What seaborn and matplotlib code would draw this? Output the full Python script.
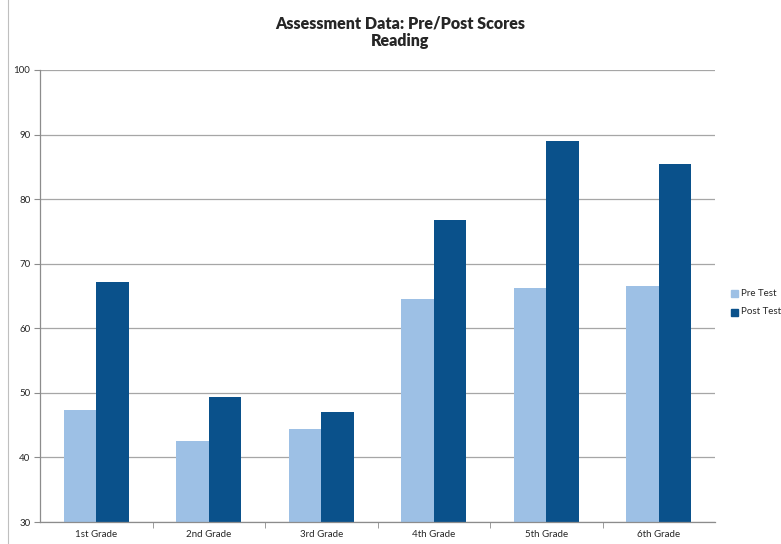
import pandas as pd
import seaborn as sns
import matplotlib.pyplot as plt
from matplotlib.patches import Rectangle

# data
grades = ['1st Grade', '2nd Grade', '3rd Grade', '4th Grade', '5th Grade', '6th Grade']
pre_test = [47.3, 42.6, 44.4, 64.5, 66.2, 66.5]
post_test = [67.1, 49.3, 47.1, 76.8, 89.0, 85.5]
series = ['Pre Test', 'Post Test']

df = pd.DataFrame({
    'grade': grades * 2,
    'score': pre_test + post_test,
    'test': [series[0]] * len(grades) + [series[1]] * len(grades),
})

sns.set_style('white')
plt.rcParams['font.family'] = ['Lato', 'DejaVu Sans']

fig = plt.figure(figsize=(7.81, 5.44), dpi=100)
ax = fig.add_axes([40 / 781, 1 - 522 / 544, 675 / 781, 452 / 544])

colors = {'Pre Test': '#9dc0e5', 'Post Test': '#0a518b'}
sns.barplot(data=df, x='grade', y='score', hue='test', palette=colors,
            width=0.58, ax=ax, saturation=1, legend=False, linewidth=0)

ax.set_ylim(30, 100)
ax.set_yticks(range(30, 101, 10))
ax.yaxis.grid(True, color='#a6a6a6', linewidth=0.9)
ax.set_axisbelow(True)
ax.set_xlim(-0.5, len(grades) - 0.5)
ax.set_xlabel('')
ax.set_ylabel('')
for s in ['top', 'right']:
    ax.spines[s].set_visible(False)
for s in ['left', 'bottom']:
    ax.spines[s].set_color('#8c8c8c')
    ax.spines[s].set_linewidth(0.9)

ax.tick_params(axis='y', labelsize=7, length=4, left=True, color='#8c8c8c', pad=3)
ax.tick_params(axis='x', labelsize=7, length=0, pad=6)
ax.set_xticks([i + 0.5 for i in range(len(grades) - 1)], minor=True)
ax.tick_params(axis='x', which='minor', length=4, bottom=True, color='#8c8c8c')

fig.suptitle('Assessment Data: Pre/Post Scores\nReading', x=0.512, y=0.972,
             fontsize=11.5, fontweight='heavy', linespacing=1.15)

# legend
for i, name in enumerate(series):
    y = 1 - (293 + 19 * i) / 544
    fig.patches.append(Rectangle((731 / 781, y - 4 / 544), 7 / 781, 7 / 544,
                                 transform=fig.transFigure, color=colors[name]))
    fig.text(741 / 781, y, name, fontsize=7, va='center', ha='left')

# chart border
fig.patches.append(Rectangle((8 / 781, -0.01), 1.0, 1.02, transform=fig.transFigure,
                             fill=False, edgecolor='#bfbfbf', linewidth=0.8))

fig.savefig('out.png', dpi=100)
